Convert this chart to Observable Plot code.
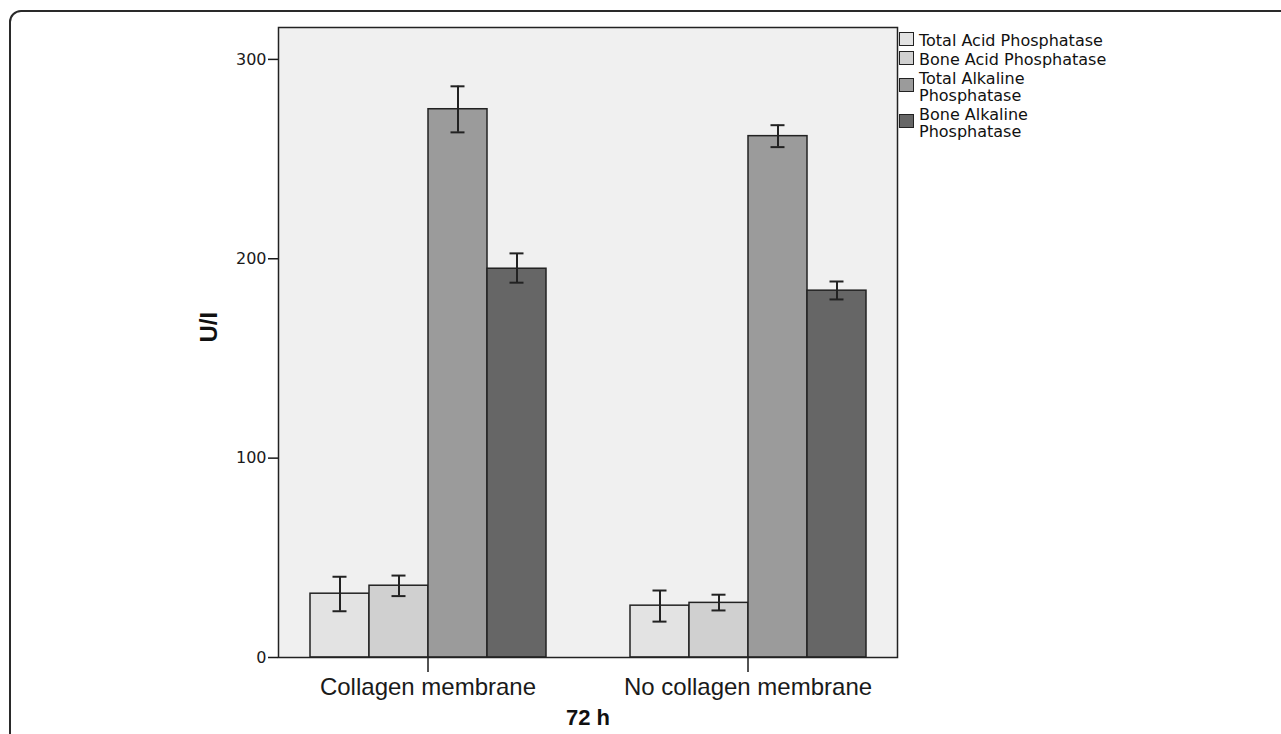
<!DOCTYPE html>
<html>
<head>
<meta charset="utf-8">
<script src="https://cdn.jsdelivr.net/npm/d3@7"></script>
<script src="https://cdn.jsdelivr.net/npm/@observablehq/plot@0.6"></script>
<style>
  html, body { margin: 0; padding: 0; background: #fff; overflow: hidden; }
  #wrap { position: relative; width: 1281px; height: 734px; overflow: hidden; }
  #border { position: absolute; left: 9px; top: 10px; width: 1400px; height: 900px;
            border: 2px solid #2a2a2a; border-radius: 12px; box-sizing: border-box; }
  #chart { position: absolute; left: 0; top: 0; }
  #legend { position: absolute; left: 899px; top: 32px; font-family: "DejaVu Sans", sans-serif;
            font-size: 16px; line-height: 17px; color: #111; display: flex; flex-direction: column; gap: 2px; }
  .item { display: flex; align-items: flex-start; }
  .sw { width: 13px; height: 12px; border: 1.5px solid #222; margin-right: 5px; flex: none; }
  .two .sw { margin-top: 8px; }
</style>
</head>
<body>
<div id="wrap">
  <div id="border"></div>
  <div id="chart"></div>
  <div id="legend"></div>
</div>
<script>
const groups = ["Collagen membrane", "No collagen membrane"];
const series = ["Total Acid Phosphatase", "Bone Acid Phosphatase", "Total Alkaline Phosphatase", "Bone Alkaline Phosphatase"];
const legendLines = [["Total Acid Phosphatase"], ["Bone Acid Phosphatase"], ["Total Alkaline", "Phosphatase"], ["Bone Alkaline", "Phosphatase"]];
const collagenMeans = [32, 36, 275, 195];
const collagenLow = [23.2, 30.8, 263.4, 188];
const collagenHigh = [40.5, 41.1, 286.5, 202.7];
const noCollagenMeans = [26, 27.4, 261.5, 184];
const noCollagenLow = [18, 23.6, 256, 179.6];
const noCollagenHigh = [33.6, 31.5, 267, 188.6];
const colors = ["#e3e3e3", "#d0d0d0", "#9b9b9b", "#666666"];
const yTicks = [0, 100, 200, 300];
const yLabel = "U/I";
const xTitle = "72 h";

const means = [collagenMeans, noCollagenMeans];
const lows = [collagenLow, noCollagenLow];
const highs = [collagenHigh, noCollagenHigh];
const table = groups.flatMap((g, gi) => series.map((s, si) => ({
  group: g, series: s, value: means[gi][si], low: lows[gi][si], high: highs[gi][si]
})));

const chart = Plot.plot({
  width: 1281,
  height: 734,
  marginLeft: 277,
  marginRight: 383,
  marginTop: 27,
  marginBottom: 77,
  style: { fontFamily: "DejaVu Sans", fontSize: "16px", color: "#1a1a1a", background: "transparent" },
  fx: { domain: groups, paddingInner: 0.0654, paddingOuter: 0, label: null },
  x: { domain: series, paddingInner: 0, paddingOuter: 0.521, axis: null },
  y: { domain: [0, 316] },
  color: { domain: series, range: colors },
  marks: [
    Plot.frame({ facet: "super", fill: "#f0f0f0" }),
    Plot.barY(table, { fx: "group", x: "series", y: "value", fill: "series", stroke: "#222", strokeWidth: 1.5 }),
    Plot.ruleX(table, { fx: "group", x: "series", y1: "low", y2: "high", stroke: "#222", strokeWidth: 2 }),
    Plot.tickY(table, { fx: "group", x: "series", y: "high", stroke: "#222", strokeWidth: 2, insetLeft: 22.5, insetRight: 22.5 }),
    Plot.tickY(table, { fx: "group", x: "series", y: "low", stroke: "#222", strokeWidth: 2, insetLeft: 22.5, insetRight: 22.5 }),
    Plot.axisY({ ticks: yTicks, tickSize: 10, tickPadding: 2, label: null, fontSize: 16, strokeWidth: 1.5 }),
    Plot.axisFx({ anchor: "bottom", tickSize: 15, tickPadding: 5, label: null, fontSize: 24, fontFamily: "Liberation Sans", strokeWidth: 1.5 }),
    Plot.frame({ facet: "super", stroke: "#222", strokeWidth: 1.5 }),
    Plot.text([yLabel], { facet: "super", frameAnchor: "left", dx: -69, rotate: -90, fontSize: 24, fontWeight: "bold", fontFamily: "Liberation Sans", fill: "#111" }),
    Plot.text([xTitle], { facet: "super", frameAnchor: "bottom", dy: 52, lineAnchor: "top", fontSize: 22, fontWeight: "bold", fontFamily: "Liberation Sans", fill: "#111" })
  ]
});
document.getElementById("chart").appendChild(chart);

const legend = document.getElementById("legend");
series.forEach((s, i) => {
  const item = document.createElement("div");
  item.className = "item" + (legendLines[i].length > 1 ? " two" : "");
  const sw = document.createElement("div");
  sw.className = "sw";
  sw.style.background = colors[i];
  const txt = document.createElement("div");
  txt.innerHTML = legendLines[i].join("<br>");
  item.appendChild(sw);
  item.appendChild(txt);
  legend.appendChild(item);
});
</script>
</body>
</html>
